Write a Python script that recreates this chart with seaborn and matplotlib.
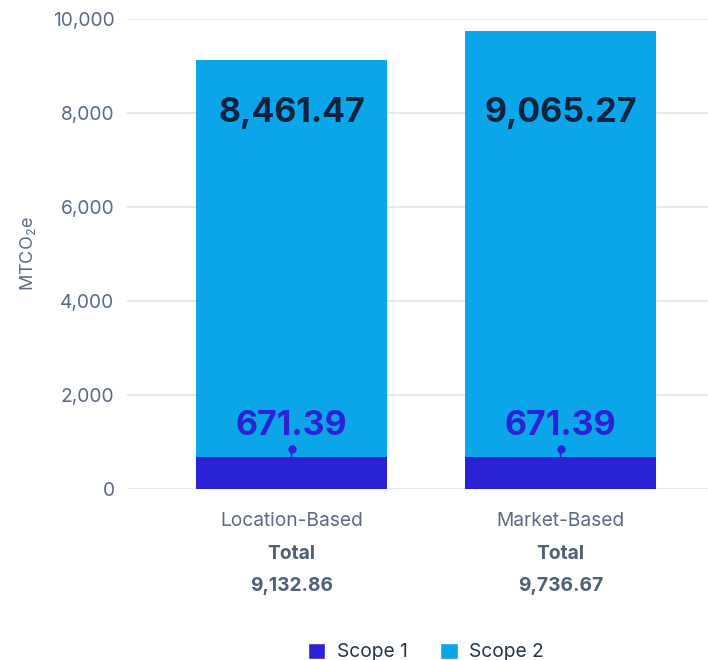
import matplotlib
matplotlib.use('Agg')
import matplotlib.pyplot as plt
from matplotlib.patches import Patch
from matplotlib.transforms import offset_copy
import seaborn as sns
import pandas as pd

# ---- data ----
categories = ['Location-Based', 'Market-Based']
scope1 = [671.39, 671.39]
scope2 = [8461.47, 9065.27]
totals = [9132.86, 9736.67]
series_names = ['Scope 1', 'Scope 2']
y_ticks = [0, 2000, 4000, 6000, 8000, 10000]

# ---- style ----
sns.set_theme(style='white')
FONT = 'Inter'
plt.rcParams['font.family'] = [FONT, 'DejaVu Sans']
plt.rcParams['mathtext.fontset'] = 'custom'
plt.rcParams['mathtext.rm'] = FONT
plt.rcParams['mathtext.it'] = FONT
plt.rcParams['mathtext.bf'] = FONT + ':bold'

C1 = '#2b22d6'
C2 = '#0ba5e9'
TICK = '#5b6b80'
DARK = '#0f2340'
BOLDGRAY = '#4f5f75'
FS = 13.8

W, H = 708, 660
fig = plt.figure(figsize=(W / 100, H / 100), dpi=100)
ax = fig.add_axes([127 / W, 1 - 489 / H, 1 - 127 / W, 470 / H])

df = pd.DataFrame({'cat': categories, 's1': scope1, 's2': scope2})
df['stack'] = df['s1'] + df['s2']

sns.barplot(data=df, x='cat', y='stack', color=C2, width=0.71, saturation=1,
            ax=ax, zorder=2, linewidth=0)
sns.barplot(data=df, x='cat', y='s1', color=C1, width=0.71, saturation=1,
            ax=ax, zorder=3, linewidth=0)

ax.set_xlim(-0.6115, 1.548)
ax.set_ylim(0, 10000)
ax.set_yticks(y_ticks)
ax.set_yticklabels([f'{v:,}' for v in y_ticks])
ax.yaxis.grid(True, color='#e2e4e8', lw=1.2)
ax.set_axisbelow(True)
sns.despine(ax=ax, left=True, bottom=True)
ax.tick_params(axis='y', length=0, pad=9, labelsize=FS, labelcolor=TICK)
ax.tick_params(axis='x', length=0, pad=16.5, labelsize=FS, labelcolor=TICK)
ax.set_xlabel('')
ax.set_ylabel('MTCO$_2$e', fontsize=13, color=TICK, va='center')
ax.yaxis.set_label_coords((28 - 127) / (W - 127), 0.5)

# ---- labels ----
for i, (s1, s2, tot) in enumerate(zip(scope1, scope2, totals)):
    ax.text(i, 8000, f'{s2:,.2f}', ha='center', va='center', fontsize=24.5,
            fontweight='bold', color=DARK, zorder=5)
    ax.annotate(f'{s1:,.2f}', xy=(i, s1), xytext=(0, 23), textcoords='offset points',
                ha='center', va='center', fontsize=24.5, fontweight='bold',
                color=C1, zorder=5)
    ax.annotate('', xy=(i, s1), xytext=(0, 6.5), textcoords='offset points',
                arrowprops=dict(arrowstyle='-', color=C1, lw=1.2, shrinkA=0, shrinkB=0),
                zorder=5)
    trans = offset_copy(ax.transData, fig=fig, x=0, y=8.5, units='dots')
    ax.plot([i], [s1], 'o', ms=5, color=C1, transform=trans, zorder=6, clip_on=False)
    ax.annotate('Total', xy=(i, 0), xycoords=('data', 'axes fraction'),
                xytext=(0, -47), textcoords='offset points', ha='center', va='center',
                fontsize=FS, fontweight='bold', color=BOLDGRAY, annotation_clip=False)
    ax.annotate(f'{tot:,.2f}', xy=(i, 0), xycoords=('data', 'axes fraction'),
                xytext=(0, -69.8), textcoords='offset points', ha='center', va='center',
                fontsize=FS, fontweight='bold', color=BOLDGRAY, annotation_clip=False)

handles = [Patch(facecolor=C1, label=series_names[0]),
           Patch(facecolor=C2, label=series_names[1])]
fig.legend(handles=handles, loc='center', bbox_to_anchor=(426 / W, 1 - 652 / H),
           ncol=2, frameon=False, fontsize=FS, handlelength=0.9, handleheight=0.9,
           handletextpad=0.6, columnspacing=1.7, labelcolor='#263445')

fig.savefig('out.png', dpi=100)
